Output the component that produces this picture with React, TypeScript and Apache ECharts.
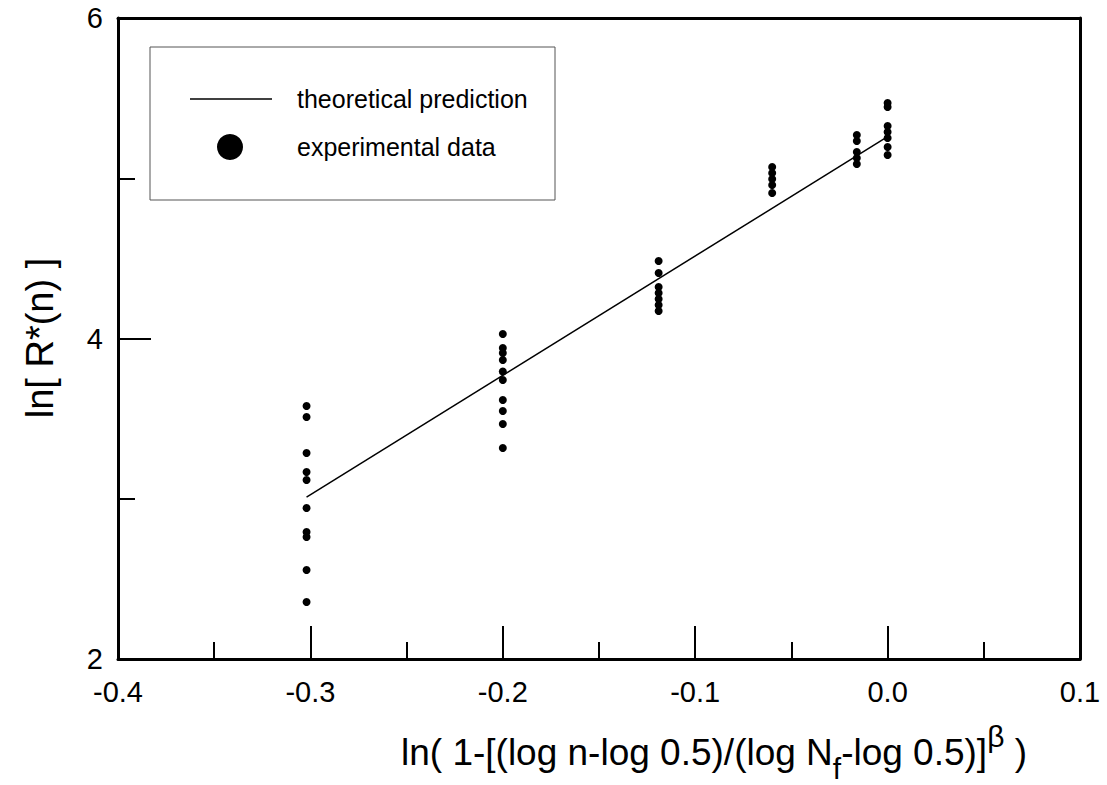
import React, { useEffect, useRef } from "react";
import * as echarts from "echarts";

const groupX = [-0.302, -0.2, -0.119, -0.06, -0.016, 0.0];
const groupY: number[][] = [
  [3.579, 3.51, 3.285, 3.167, 3.117, 2.942, 2.792, 2.761, 2.555, 2.356],
  [4.028, 3.941, 3.91, 3.866, 3.794, 3.741, 3.616, 3.548, 3.466, 3.317],
  [4.484, 4.409, 4.321, 4.284, 4.247, 4.209, 4.172],
  [5.07, 5.033, 4.995, 4.958, 4.908],
  [5.27, 5.232, 5.164, 5.126, 5.089],
  [5.47, 5.445, 5.326, 5.289, 5.251, 5.195, 5.145],
];
const predictionX = [-0.302, 0.0];
const predictionY = [3.01, 5.26];
const legendNames = ["theoretical prediction", "experimental data"];
const xTitle = ["ln( 1-[(log n-log 0.5)/(log N", "f", "-log 0.5)]", "β", " )"];
const yTitle = "ln[ R*(n) ]";

const FONT = "Liberation Sans, Arial, sans-serif";

export default function App() {
  const ref = useRef<HTMLDivElement>(null);
  useEffect(() => {
    if (!ref.current) return;
    const chart = echarts.init(ref.current, null, { renderer: "svg" });
    const scatterData: number[][] = [];
    groupX.forEach((x, i) => groupY[i].forEach((y) => scatterData.push([x, y])));
    const lineData = predictionX.map((x, i) => [x, predictionY[i]]);
    const axisLine = { show: true, onZero: false, lineStyle: { color: "#000", width: 3 } };
    chart.setOption({
      animation: false,
      textStyle: { fontFamily: FONT },
      grid: { left: 118, right: 27, top: 18, bottom: 126, containLabel: false },
      xAxis: [
        {
          type: "value",
          min: -0.4,
          max: 0.1,
          interval: 0.1,
          axisLine,
          axisTick: { show: true, inside: true, length: 33, lineStyle: { color: "#000", width: 2 } },
          minorTick: { show: true, splitNumber: 2, length: 17, lineStyle: { color: "#000", width: 2 } },
          splitLine: { show: false },
          axisLabel: {
            color: "#000",
            fontSize: 29,
            fontFamily: FONT,
            margin: 18,
            formatter: (v: number) => v.toFixed(1),
          },
        },
        {
          type: "value",
          position: "top",
          min: -0.4,
          max: 0.1,
          interval: 0.1,
          axisLine,
          axisTick: { show: false },
          axisLabel: { show: false },
          splitLine: { show: false },
        },
      ],
      yAxis: [
        {
          type: "value",
          min: 2,
          max: 6,
          interval: 2,
          axisLine,
          axisTick: { show: true, inside: true, length: 33, lineStyle: { color: "#000", width: 2 } },
          minorTick: { show: true, splitNumber: 2, length: 17, lineStyle: { color: "#000", width: 2 } },
          splitLine: { show: false },
          axisLabel: { color: "#000", fontSize: 29, fontFamily: FONT, margin: 15 },
        },
        {
          type: "value",
          position: "right",
          min: 2,
          max: 6,
          interval: 2,
          axisLine,
          axisTick: { show: false },
          axisLabel: { show: false },
          splitLine: { show: false },
        },
      ],
      graphic: [
        {
          type: "rect",
          shape: { x: 150, y: 47, width: 405, height: 153 },
          style: { fill: "#fff", stroke: "#555", lineWidth: 1 },
          z: 10,
        },
        {
          type: "line",
          shape: { x1: 190, y1: 99, x2: 272, y2: 99 },
          style: { stroke: "#000", lineWidth: 1.5 },
          z: 11,
        },
        {
          type: "circle",
          shape: { cx: 230, cy: 147, r: 13 },
          style: { fill: "#000" },
          z: 11,
        },
        {
          type: "text",
          x: 297,
          y: 99,
          z: 11,
          style: { text: legendNames[0], fontSize: 25, fontFamily: FONT, fill: "#000", verticalAlign: "middle" },
        },
        {
          type: "text",
          x: 297,
          y: 147,
          z: 11,
          style: { text: legendNames[1], fontSize: 25, fontFamily: FONT, fill: "#000", verticalAlign: "middle" },
        },
        {
          type: "text",
          x: 40,
          y: 338,
          rotation: Math.PI / 2,
          style: {
            text: yTitle,
            fontSize: 38,
            fontFamily: FONT,
            fill: "#000",
            align: "center",
            verticalAlign: "middle",
          },
        },
        {
          type: "text",
          x: 714,
          y: 752,
          style: {
            text:
              "{a|" + xTitle[0] + "}{sub|" + xTitle[1] + "}{a|" + xTitle[2] + "}{sup|" + xTitle[3] + "}{a|" + xTitle[4] + "}",
            align: "center",
            verticalAlign: "middle",
            fontFamily: FONT,
            fill: "#000",
            rich: {
              a: { fontSize: 37, fontFamily: FONT, fill: "#000", lineHeight: 62, verticalAlign: "middle" },
              sub: { fontSize: 30, fontFamily: FONT, fill: "#000", lineHeight: 30, verticalAlign: "bottom" },
              sup: { fontSize: 30, fontFamily: FONT, fill: "#000", lineHeight: 18, verticalAlign: "top" },
            },
          },
        },
      ],
      series: [
        {
          name: legendNames[0],
          type: "line",
          data: lineData,
          symbol: "none",
          lineStyle: { color: "#000", width: 1.5 },
          itemStyle: { color: "#000" },
          z: 3,
        },
        {
          name: legendNames[1],
          type: "scatter",
          data: scatterData,
          symbol: "circle",
          symbolSize: 8,
          itemStyle: { color: "#000", opacity: 1 },
          z: 4,
        },
      ],
    });
    return () => chart.dispose();
  }, []);
  return <div ref={ref} style={{ width: 1107, height: 785, position: "absolute", left: 0, top: 0 }} />;
}
